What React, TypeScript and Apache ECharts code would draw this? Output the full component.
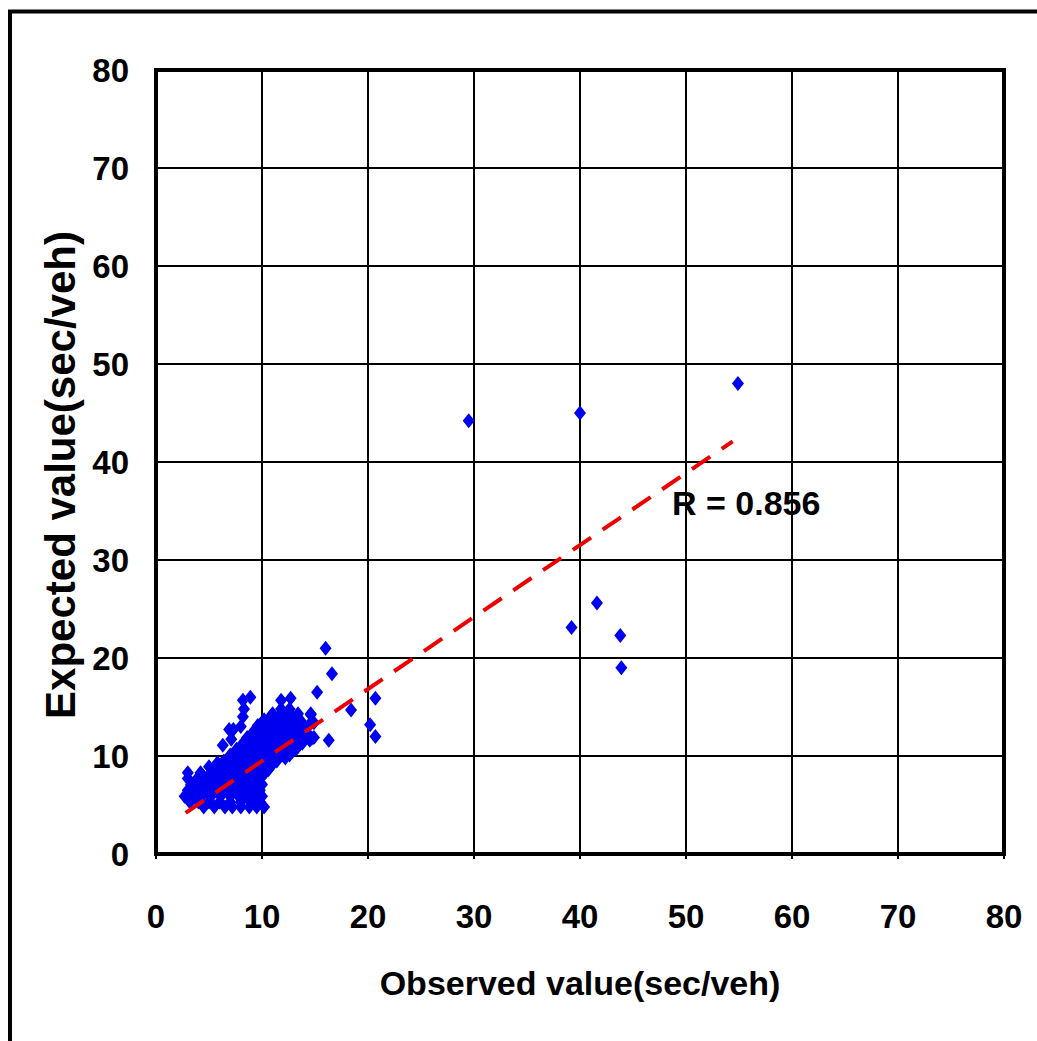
import React, { useEffect, useRef } from "react";
import * as echarts from "echarts";

const xTicks = [0, 10, 20, 30, 40, 50, 60, 70, 80];
const yTicks = [0, 10, 20, 30, 40, 50, 60, 70, 80];

// Dense cluster: [y, x values...]
const clusterRows: number[][] = [
  [4.8, 4.5, 5.5, 6.5, 7.2, 8.0, 8.8, 9.5, 10.2],
  [5.3, 3.2, 4.0, 5.0, 6.0, 7.0, 8.0, 9.0, 9.8],
  [5.9, 2.7, 3.5, 4.3, 5.2, 6.1, 7.0, 7.8, 8.6, 9.4, 10.0],
  [6.2, 3.4, 4.2, 5.1, 6.0, 6.9, 7.7, 8.6, 9.4],
  [6.5, 3.0, 3.8, 4.6, 5.5, 6.4, 7.3, 8.2, 9.0, 9.8],
  [6.8, 3.6, 4.5, 5.4, 6.3, 7.2, 8.0, 8.8, 9.6],
  [7.1, 3.3, 4.1, 5.0, 5.8, 6.7, 7.6, 8.4, 9.2, 10.0],
  [7.4, 3.7, 4.6, 5.5, 6.3, 7.2, 8.0, 8.8, 9.6],
  [7.7, 3.0, 3.9, 4.8, 5.7, 6.5, 7.4, 8.2, 9.0, 9.8],
  [8.0, 4.4, 5.3, 6.2, 7.0, 7.9, 8.7, 9.5],
  [8.3, 3.0, 4.2, 5.2, 6.1, 7.0, 7.8, 8.6, 9.5, 10.3],
  [8.6, 5.6, 6.5, 7.3, 8.2, 9.0, 9.8, 10.6],
  [8.9, 5.0, 5.8, 6.8, 7.6, 8.4, 9.2, 10.0, 10.8],
  [9.2, 6.9, 7.7, 8.5, 9.4, 10.2, 11.0],
  [9.5, 6.4, 7.3, 8.1, 9.0, 9.8, 10.6, 11.4],
  [9.8, 7.5, 8.3, 9.1, 9.9, 10.7, 11.5, 12.2],
  [10.1, 7.0, 7.9, 8.7, 9.5, 10.3, 11.1, 11.9, 12.6],
  [10.4, 8.0, 8.8, 9.6, 10.4, 11.2, 12.0, 12.8],
  [10.7, 7.6, 8.4, 9.2, 10.0, 10.8, 11.6, 12.4, 13.2],
  [11.0, 8.6, 9.4, 10.2, 11.0, 11.8, 12.6, 13.4],
  [11.3, 8.2, 9.0, 9.8, 10.6, 11.4, 12.2, 13.0, 13.8],
  [11.6, 9.0, 9.8, 10.6, 11.4, 12.2, 13.0, 13.8, 14.5],
  [11.9, 8.6, 9.4, 10.2, 11.0, 11.8, 12.6, 13.4, 14.2, 14.9],
  [12.2, 9.6, 10.4, 11.2, 12.0, 12.8, 13.6, 14.4],
  [12.5, 9.2, 10.0, 10.8, 11.6, 12.4, 13.2, 14.0],
  [12.8, 9.9, 10.7, 11.5, 12.3, 13.1, 13.9],
  [13.1, 9.6, 10.4, 11.2, 12.0, 12.8, 13.6, 14.4],
  [13.4, 10.6, 11.4, 12.2, 13.0, 13.8],
  [13.7, 10.2, 11.0, 11.8, 12.6, 13.4],
  [14.0, 10.8, 11.6, 12.4, 13.2],
  [14.3, 11.0, 11.8, 12.6, 13.4, 14.6],
  [14.8, 11.8, 12.6],
];

// Scattered points around and away from the cluster: [observed, expected]
const strayPoints: number[][] = [
  [5.8, 9.3], [6.3, 11.1], [7.1, 11.7], [6.9, 12.7], [7.3, 12.7],
  [8.0, 13.0], [8.2, 14.0], [8.3, 14.8], [8.2, 15.7], [8.9, 16.0],
  [11.8, 15.7], [12.7, 15.9], [14.6, 14.2], [14.9, 13.4], [14.7, 11.8],
  [15.2, 16.5], [16.0, 21.0], [16.6, 18.4], [18.4, 14.7], [16.3, 11.6],
  [20.7, 15.9], [20.2, 13.2], [20.7, 12.0],
  [29.5, 44.2], [40.0, 45.0], [54.9, 48.0],
  [39.2, 23.1], [41.6, 25.6], [43.8, 22.3], [43.9, 19.0],
];

// Fitted line end points
const fitLine: number[][] = [
  [2.8, 4.2],
  [54.4, 42.1],
];

const rLabel = "R = 0.856";
const xTitle = "Observed value(sec/veh)";
const yTitle = "Expected value(sec/veh)";

const FONT = "'Liberation Sans', Arial, sans-serif";

export default function App() {
  const ref = useRef<HTMLDivElement>(null);
  useEffect(() => {
    if (!ref.current) return;
    const chart = echarts.init(ref.current, undefined, { renderer: "svg" });
    const scatterData: number[][] = [];
    clusterRows.forEach((row) => {
      const y = row[0];
      row.slice(1).forEach((x) => scatterData.push([x, y]));
    });
    strayPoints.forEach((p) => scatterData.push(p));

    chart.setOption({
      animation: false,
      backgroundColor: "#ffffff",
      grid: {
        left: 156,
        top: 70,
        width: 848,
        height: 784,
        show: true,
        borderWidth: 4,
        borderColor: "#000",
        backgroundColor: "transparent",
      },
      xAxis: {
        type: "value",
        min: xTicks[0],
        max: xTicks[xTicks.length - 1],
        interval: 10,
        name: xTitle,
        nameLocation: "middle",
        nameGap: 112,
        nameTextStyle: { fontFamily: FONT, fontWeight: "bold", fontSize: 34, color: "#000" },
        axisLine: { show: true, lineStyle: { color: "#000", width: 4 } },
        axisTick: { show: true, length: 5, lineStyle: { color: "#000", width: 2 } },
        axisLabel: { fontFamily: FONT, fontWeight: "bold", fontSize: 33, color: "#000", margin: 46 },
        splitLine: { show: true, lineStyle: { color: "#000", width: 2 } },
      },
      yAxis: {
        type: "value",
        min: yTicks[0],
        max: yTicks[yTicks.length - 1],
        interval: 10,
        axisLine: { show: true, lineStyle: { color: "#000", width: 4 } },
        axisTick: { show: false },
        axisLabel: { fontFamily: FONT, fontWeight: "bold", fontSize: 33, color: "#000", margin: 27 },
        splitLine: { show: true, lineStyle: { color: "#000", width: 2 } },
      },
      series: [
        {
          type: "scatter",
          data: scatterData,
          symbol: "diamond",
          symbolSize: [12, 15],
          itemStyle: { color: "#0000f0", opacity: 1 },
          z: 3,
        },
        {
          type: "line",
          data: fitLine,
          showSymbol: false,
          symbol: "none",
          lineStyle: { color: "#ee0000", width: 4, type: [22, 14] },
          z: 4,
        },
      ],
      graphic: [
        {
          type: "rect",
          shape: { x: 10, y: 11.5, width: 1100, height: 1100 },
          style: { fill: "none", stroke: "#000", lineWidth: 4 },
          silent: true,
        },
        {
          type: "text",
          x: 60,
          y: 475,
          rotation: Math.PI / 2,
          style: {
            text: yTitle,
            fontFamily: FONT,
            fontWeight: "bold",
            fontSize: 42,
            fill: "#000",
            align: "center",
            verticalAlign: "middle",
          },
        },
        {
          type: "text",
          x: 672,
          y: 503,
          style: {
            text: rLabel,
            fontFamily: FONT,
            fontWeight: "bold",
            fontSize: 34,
            fill: "#000",
            align: "left",
            verticalAlign: "middle",
          },
          z: 10,
        },
      ],
    });
    return () => chart.dispose();
  }, []);
  return (
    <div
      ref={ref}
      style={{ position: "absolute", left: 0, top: 0, width: 1037, height: 1041, background: "#fff" }}
    />
  );
}
